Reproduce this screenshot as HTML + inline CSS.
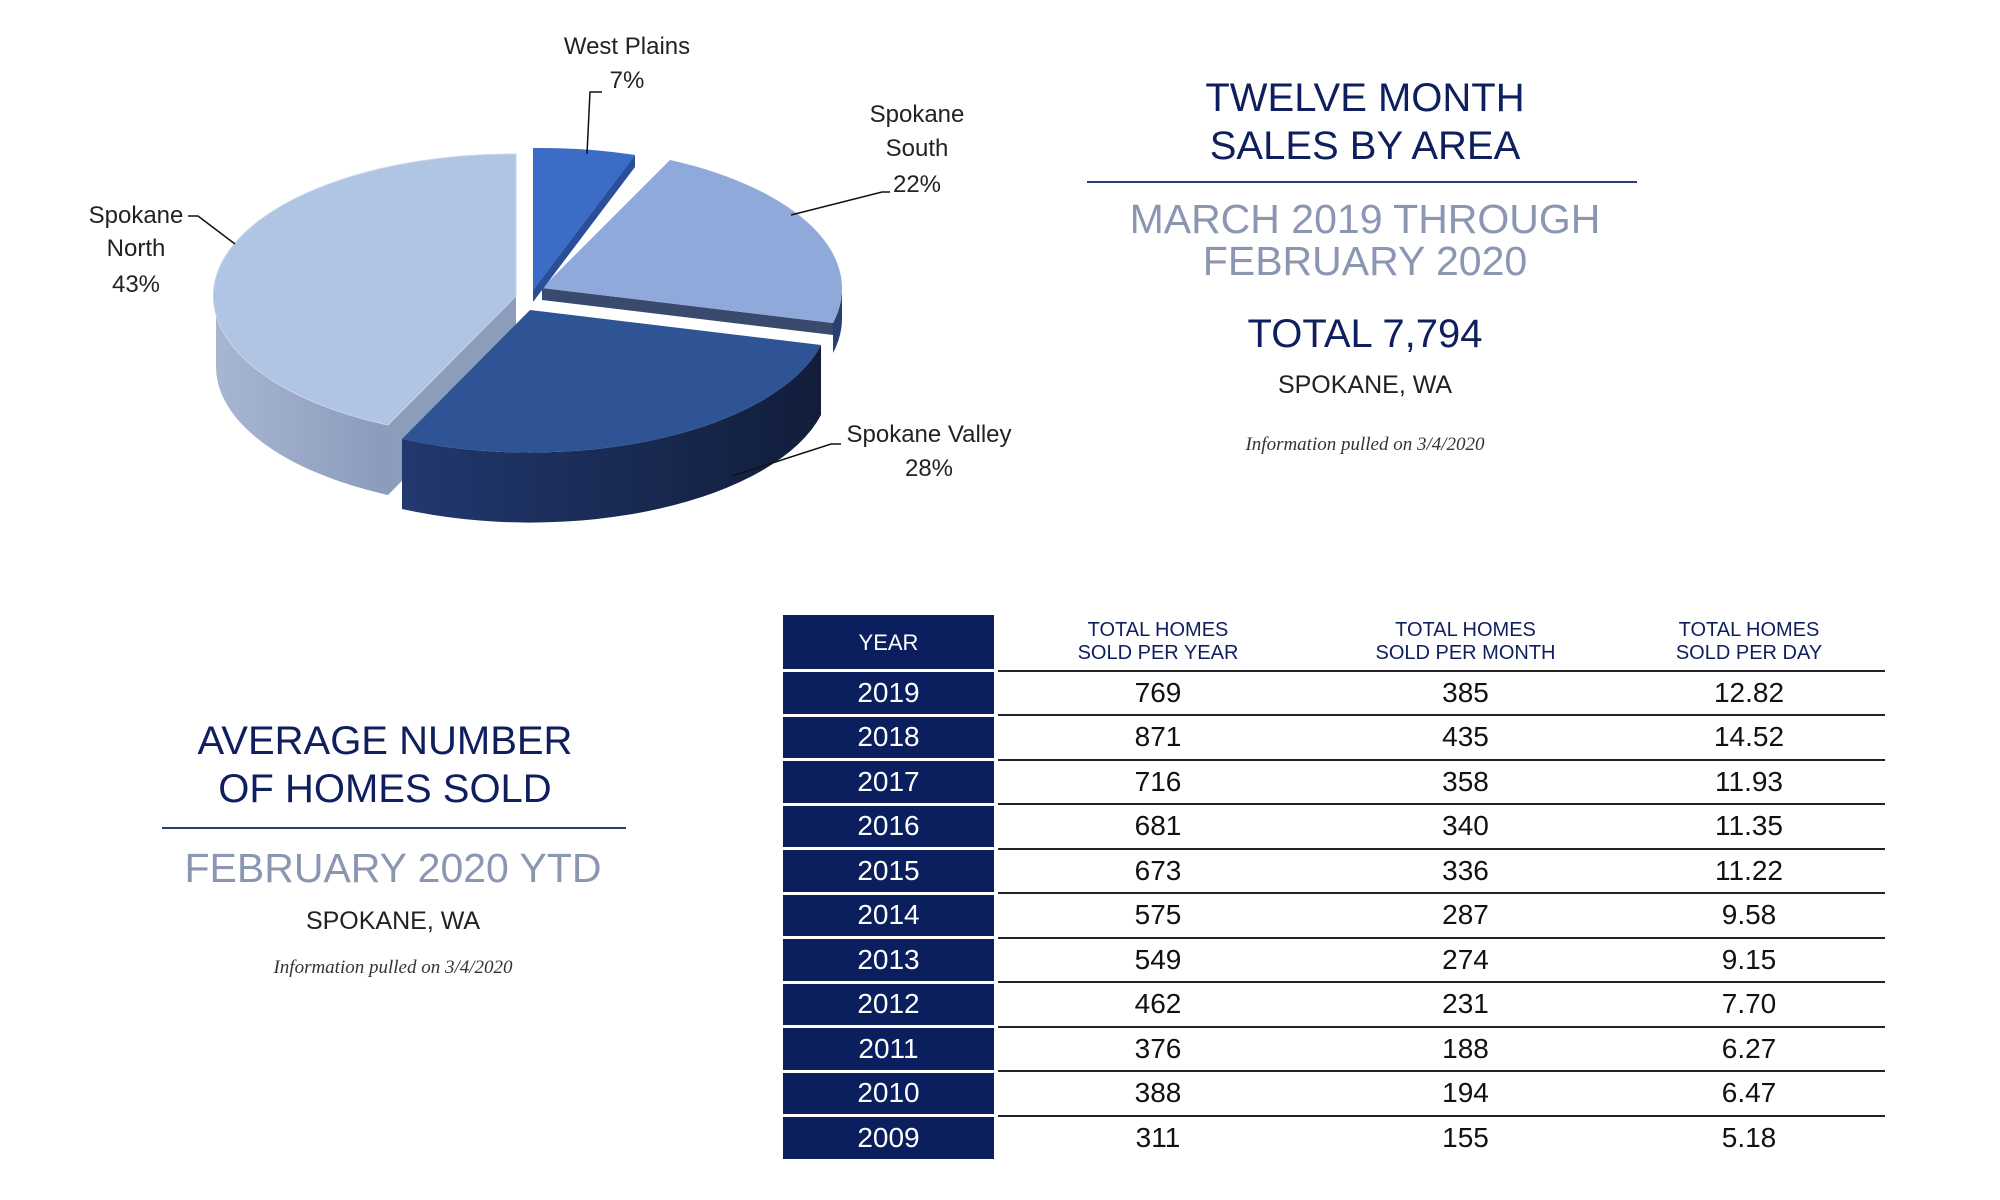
<!DOCTYPE html>
<html><head><meta charset="utf-8"><style>
html,body{margin:0;padding:0;background:#fff;}
body{width:2000px;height:1200px;position:relative;overflow:hidden;font-family:"Liberation Sans",sans-serif;}
.c{position:absolute;text-align:center;white-space:nowrap;transform:translateX(-50%);}
.navy{color:#0f1f5e;}
.grey{color:#8a96b2;font-weight:300;}
.info{font-family:"Liberation Serif",serif;font-style:italic;color:#333;font-size:19px;}
.hr{position:absolute;height:2px;background:#2a3d7a;}
table{position:absolute;left:783px;top:615px;border-collapse:collapse;}
td{padding:0;height:41.5px;font-size:28px;text-align:center;color:#111;}
td.y{background:#0b1f5e;color:#fff;width:211px;border-bottom:3px solid #fff;border-right:4px solid #fff;}
td.v{border-bottom:2px solid #222;}
tr.h td{height:54px;font-size:20px;color:#0f1f5e;line-height:23px;}
tr.last td.v{border-bottom:none;}
</style></head><body>
<svg width="1100" height="560" style="position:absolute;left:0;top:0" font-family="Liberation Sans, sans-serif">
<defs>
<linearGradient id="vs" x1="0" x2="1" y1="0" y2="0"><stop offset="0" stop-color="#22396f"/><stop offset="1" stop-color="#111d3a"/></linearGradient>
<linearGradient id="ns" x1="0" x2="1" y1="0" y2="0"><stop offset="0" stop-color="#a7b6d2"/><stop offset="1" stop-color="#8a9bbb"/></linearGradient>
</defs>
<g transform="translate(-14,-2)">
<path d="M230 298 A300 142 0 0 0 402 427 L402 497 A300 142 0 0 1 230 368 Z" fill="url(#ns)"/>
<path d="M530 298 L402 427 L402 497 L530 368 Z" fill="#8c9cbb"/>
<path d="M530 298 L402 427 A300 142 0 0 1 530 156 Z" fill="#b0c4e3" stroke="#c8d5ea" stroke-width="1"/>
</g>
<g transform="translate(0,12)">
<path d="M821 333 A300 142 0 0 1 402 427 L402 497 A300 142 0 0 0 821 403 Z" fill="url(#vs)"/>
<path d="M530 298 L821 333 A300 142 0 0 1 402 427 Z" fill="#2f5496"/>
</g>
<g transform="translate(12,-10)">
<path d="M830 298 A300 142 0 0 1 821 333 L821 363 A300 142 0 0 0 830 328 Z" fill="#2a3f70"/>
<path d="M530 298 L821 333 L821 345 L530 310 Z" fill="#3a4a6e"/>
<path d="M530 298 L658 170 A300 142 0 0 1 821 333 Z" fill="#8ea9da"/>
</g>
<g transform="translate(3,-8)">
<path d="M530 298 L530 156 A300 142 0 0 1 632 163 Z" fill="#3b6cc6"/>
<path d="M530 298 L632 163 L632 175 L530 310 Z" fill="#2a4f9a"/>
</g>
<g stroke="#111" stroke-width="1.5" fill="none">
<polyline points="587,154 590,92 602,92"/>
<polyline points="791,215 882,192 890,192"/>
<polyline points="235,244 198,216 188,216"/>
<polyline points="732,476 831,444 841,444"/>
</g>
<g font-size="24" fill="#222" text-anchor="middle">
<text x="627" y="54">West Plains</text><text x="627" y="88">7%</text>
<text x="917" y="122">Spokane</text><text x="917" y="156">South</text><text x="917" y="192">22%</text>
<text x="136" y="223">Spokane</text><text x="136" y="256">North</text><text x="136" y="292">43%</text>
<text x="929" y="442">Spokane Valley</text><text x="929" y="476">28%</text>
</g>
</svg>

<div class="c navy" style="left:1365px;top:74px;font-size:40px;line-height:48px;">TWELVE MONTH<br>SALES BY AREA</div>
<div class="hr" style="left:1087px;width:550px;top:181px;"></div>
<div class="c grey" style="left:1365px;top:198px;font-size:41px;line-height:42px;">MARCH 2019 THROUGH<br>FEBRUARY 2020</div>
<div class="c navy" style="left:1365px;top:312px;font-size:40px;">TOTAL 7,794</div>
<div class="c" style="left:1365px;top:371px;font-size:25px;color:#222;">SPOKANE, WA</div>
<div class="c info" style="left:1365px;top:434px;">Information pulled on 3/4/2020</div>

<div class="c navy" style="left:385px;top:717px;font-size:40px;line-height:48px;">AVERAGE NUMBER<br>OF HOMES SOLD</div>
<div class="hr" style="left:162px;width:464px;top:827px;"></div>
<div class="c grey" style="left:393px;top:845px;font-size:41px;">FEBRUARY 2020 YTD</div>
<div class="c" style="left:393px;top:907px;font-size:25px;color:#222;">SPOKANE, WA</div>
<div class="c info" style="left:393px;top:957px;">Information pulled on 3/4/2020</div>

<table>
<tr class="h"><td class="y" style="font-size:22px;color:#fff">YEAR</td><td class="v" style="width:320px">TOTAL HOMES<br>SOLD PER YEAR</td><td class="v" style="width:295px">TOTAL HOMES<br>SOLD PER MONTH</td><td class="v" style="width:272px">TOTAL HOMES<br>SOLD PER DAY</td></tr>
<tr><td class="y">2019</td><td class="v">769</td><td class="v">385</td><td class="v">12.82</td></tr>
<tr><td class="y">2018</td><td class="v">871</td><td class="v">435</td><td class="v">14.52</td></tr>
<tr><td class="y">2017</td><td class="v">716</td><td class="v">358</td><td class="v">11.93</td></tr>
<tr><td class="y">2016</td><td class="v">681</td><td class="v">340</td><td class="v">11.35</td></tr>
<tr><td class="y">2015</td><td class="v">673</td><td class="v">336</td><td class="v">11.22</td></tr>
<tr><td class="y">2014</td><td class="v">575</td><td class="v">287</td><td class="v">9.58</td></tr>
<tr><td class="y">2013</td><td class="v">549</td><td class="v">274</td><td class="v">9.15</td></tr>
<tr><td class="y">2012</td><td class="v">462</td><td class="v">231</td><td class="v">7.70</td></tr>
<tr><td class="y">2011</td><td class="v">376</td><td class="v">188</td><td class="v">6.27</td></tr>
<tr><td class="y">2010</td><td class="v">388</td><td class="v">194</td><td class="v">6.47</td></tr>
<tr class="last"><td class="y" style="border-bottom:none">2009</td><td class="v">311</td><td class="v">155</td><td class="v">5.18</td></tr>
</table>
</body></html>
